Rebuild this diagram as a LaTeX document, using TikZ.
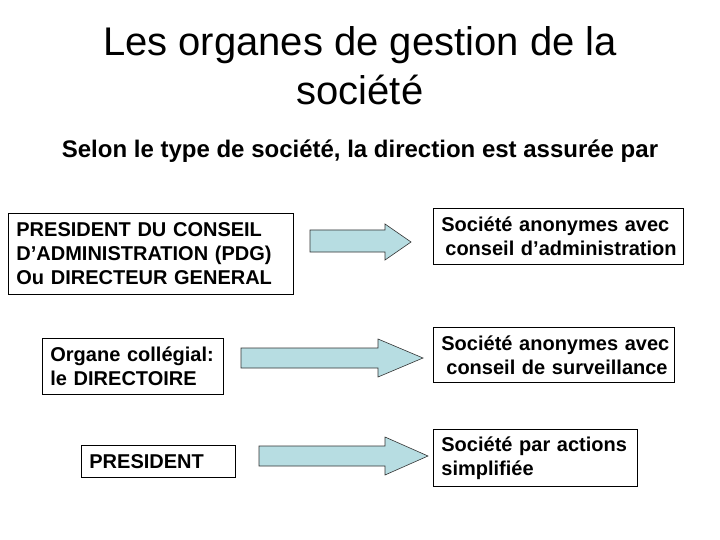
\documentclass[tikz,border=0pt]{standalone}
\usepackage{fontspec}
\setmainfont{Liberation Sans}
\definecolor{arrowfill}{RGB}{183,221,226}
\begin{document}
\begin{tikzpicture}[x=1pt,y=-1pt,
  box/.style={draw=black, line width=0.8pt, fill=white, anchor=north west,
    align=left, inner xsep=8pt, inner ysep=0pt,
    font=\fontsize{20}{24}\selectfont\bfseries},
  blockarrow/.style={draw=black!80, line width=0.6pt, fill=arrowfill},
  title/.style={anchor=base, font=\fontsize{40}{50}\selectfont, inner sep=0pt},
  subtitle/.style={anchor=base, font=\fontsize{24}{28}\selectfont\bfseries, inner sep=0pt}]
\useasboundingbox (0,0) rectangle (720,540);
\fill[white] (0,0) rectangle (720,540);

% title
\node[title] (t1) at (360,56) {Les organes de gestion de la};
\node[title] (t2) at (360,105) {société};
\node[subtitle] (st) at (360,158) {Selon le type de société, la direction est assurée par};

% left boxes
\node[box, text width=269pt, minimum height=81pt] (b1) at (8,213)
  {\mbox{PRESIDENT DU CONSEIL}\\\mbox{D’ADMINISTRATION (PDG)}\\\mbox{Ou DIRECTEUR GENERAL}};
\node[box, text width=165pt, minimum height=56pt] (b3) at (42,338)
  {\mbox{Organe collégial:}\\\mbox{le DIRECTOIRE}};
\node[box, text width=138pt, minimum height=32pt] (b5) at (81,445)
  {PRESIDENT};

% right boxes
\node[box, text width=234pt, minimum height=56pt] (b2) at (433,208)
  {\mbox{Société anonymes avec}\\\mbox{\hspace*{4pt}conseil d’administration}};
\node[box, text width=225pt, minimum height=55pt] (b4) at (433,327)
  {\mbox{Société anonymes avec}\\\mbox{\hspace*{5pt}conseil de surveillance}};
\node[box, text width=188pt, minimum height=57pt] (b6) at (433,429)
  {\mbox{Société par actions}\\\mbox{simplifiée}};

% block arrows
\draw[blockarrow] (310,230) -- (385,230) -- (385,224) -- (411,242) -- (385,260) -- (385,252) -- (310,252) -- cycle;
\draw[blockarrow] (241,348) -- (378,348) -- (378,339) -- (423,358) -- (378,377) -- (378,368) -- (241,368) -- cycle;
\draw[blockarrow] (259,446) -- (385,446) -- (385,437) -- (428,456) -- (385,475) -- (385,466) -- (259,466) -- cycle;
\end{tikzpicture}
\end{document}
